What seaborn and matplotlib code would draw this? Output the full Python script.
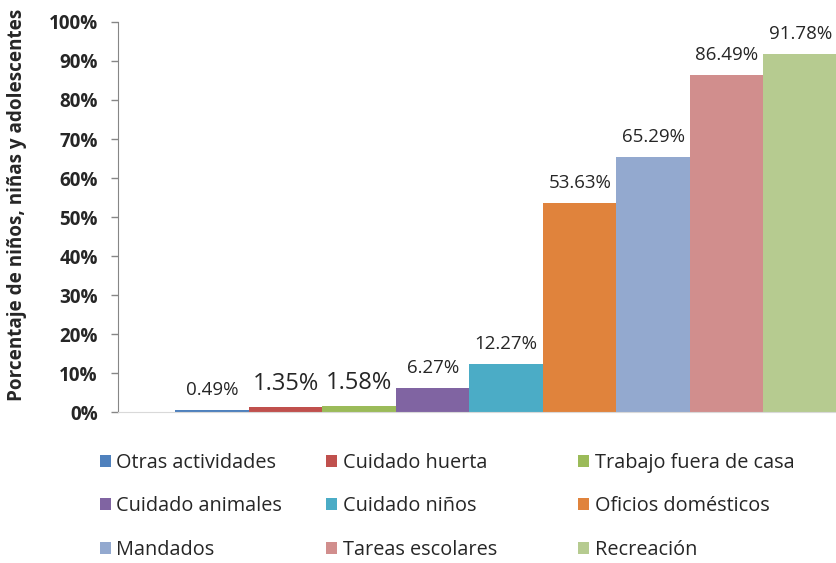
import matplotlib
matplotlib.use("Agg")
import matplotlib.pyplot as plt
import seaborn as sns
from matplotlib.ticker import PercentFormatter

# data
categories = ["Otras actividades", "Cuidado huerta", "Trabajo fuera de casa",
              "Cuidado animales", "Cuidado niños", "Oficios domésticos",
              "Mandados", "Tareas escolares", "Recreación"]
values = [0.49, 1.35, 1.58, 6.27, 12.27, 53.63, 65.29, 86.49, 91.78]
colors = ["#4F81BD", "#C0504D", "#9BBB59", "#8064A2", "#4BACC6",
          "#E0833C", "#93A9CF", "#D18E8D", "#B6CB90"]
label_sizes = [13.5, 17, 17, 13.5, 13.5, 13.5, 13.5, 13.5, 13.5]

sns.set_style("white")
plt.rcParams["font.family"] = ["Open Sans", "DejaVu Sans"]

fig = plt.figure(figsize=(8.37, 5.63), dpi=100)
ax = fig.add_axes([0.141, 0.268, 0.859, 0.693])

sns.barplot(x=categories, y=values, hue=categories, palette=colors,
            saturation=1, width=1.0, dodge=False, legend=True, ax=ax,
            linewidth=0)

ax.set_ylim(0, 100)
ax.set_xlim(-1.28, 8.5)
ax.set_yticks(range(0, 101, 10))
ax.yaxis.set_major_formatter(PercentFormatter(decimals=0))
for t in ax.get_yticklabels():
    t.set_fontweight("bold")
    t.set_fontsize(13.6)
ax.tick_params(axis="y", which="major", left=True, length=5, width=1,
               color="#868686", pad=9.5)
ax.set_xticks([])
ax.set_xlabel("")
ax.set_ylabel("Porcentaje de niños, niñas y adolescentes", fontsize=13.6,
              fontweight="bold")
ax.yaxis.set_label_coords(-0.127, 0.53)

sns.despine(ax=ax, top=True, right=True)
ax.spines["left"].set_color("#868686")
ax.spines["bottom"].set_color("#D9D9D9")

for i, (v, s) in enumerate(zip(values, label_sizes)):
    ax.text(i, v + 2.8, f"{v:.2f}%", ha="center", va="bottom",
            fontsize=s, color="#262626")

# legend: three columns placed separately, filled row by row
handles, labels = ax.get_legend_handles_labels()
ax.get_legend().remove()
col_x = [0.119, 0.390, 0.691]
for c, x in enumerate(col_x):
    idx = [c, c + 3, c + 6]
    leg = fig.legend([handles[k] for k in idx], [labels[k] for k in idx],
                     loc="upper left", bbox_to_anchor=(x, 0.196),
                     frameon=False, fontsize=14.3, handlelength=0.55,
                     handleheight=0.55, handletextpad=0.3,
                     labelspacing=1.2, borderpad=0, borderaxespad=0)

fig.savefig("out.png", dpi=100)
